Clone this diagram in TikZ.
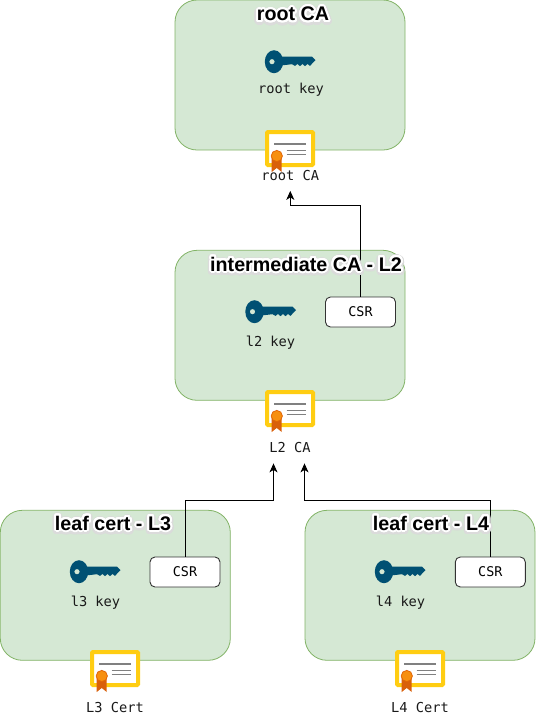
\documentclass[tikz,border=0pt]{standalone}
\usepackage{fontspec}
\usepackage[copies]{contour}
\setmainfont{Liberation Sans}
\setmonofont{DejaVu Sans Mono}
\usetikzlibrary{arrows.meta,calc}
\definecolor{boxfill}{HTML}{D5E8D4}
\definecolor{boxline}{HTML}{82B366}
\definecolor{keyblue}{HTML}{005073}
\definecolor{certgold}{HTML}{FFCD12}
\definecolor{sealorange}{HTML}{F78F0F}
\definecolor{sealribbon}{HTML}{D9600A}
\contournumber{32}
\newcommand{\titletext}[1]{\contourlength{2pt}\contour{white}{#1}}
\tikzset{
  cabox/.style={draw=boxline, fill=boxfill, line width=0.8pt, rounded corners=22pt, minimum width=230pt, minimum height=150pt, inner sep=0pt},
  csrbox/.style={draw=black!80, fill=white, line width=0.9pt, rounded corners=5pt, minimum width=70pt, minimum height=30pt, inner sep=0pt, font=\ttfamily\fontsize{13.4}{15}\selectfont},
  monolabel/.style={font=\ttfamily\fontsize{13.7}{15}\selectfont, text=black!90, inner sep=0pt},
  boxtitle/.style={font=\bfseries\fontsize{19.7}{22}\selectfont, inner sep=0pt},
  linkline/.style={-{Stealth[length=9pt,width=8pt,inset=2.5pt]}, line width=0.9pt},
  pics/keyicon/.style={code={
    % cabeza y vastago
    \fill[keyblue, even odd rule] (9,0) ellipse [x radius=9.2, y radius=11.5] (7,0) circle [radius=2.7];
    \fill[keyblue] (14,-5) -- (47,-5) -- (50.5,-1.5) -- (47,2) -- (45,4.2) -- (42.5,2.2) -- (40,4.5) -- (37.5,2.2) -- (35,4.5) -- (32.5,2.2) -- (30,4.2) -- (27,2.5) -- (14,4) -- cycle;
  }},
  pics/certicon/.style={code={
    % marco y lineas
    \draw[certgold, fill=white, line width=4pt, rounded corners=1pt] (2,2) rectangle (48,35);
    \draw[black!50, line width=1.3pt] (9.3,14) -- (40.7,14) (21.7,20.3) -- (40.7,20.3) (21.7,24.7) -- (40.7,24.7);
    % sello
    \fill[sealribbon] (6.7,27) -- (6.7,42) -- (11.7,38) -- (16.7,42) -- (16.7,27) -- cycle;
    \fill[sealorange, draw=sealribbon!80!orange, line width=0.8pt] (11.8,26) circle [radius=5.6];
  }},
}
\begin{document}
\begin{tikzpicture}[x=1pt, y=-1pt]
    \useasboundingbox (0,0) rectangle (536,724);

    % Cajas principales
    \node[cabox] (rootbox) at (290,75) {};
    \node[cabox] (l2box) at (290,325.3) {};
    \node[cabox] (l3box) at (115.3,585.3) {};
    \node[cabox] (l4box) at (420,585.3) {};

    % Solicitudes de firma
    \node[csrbox] (l2csr) at (360.5,312) {CSR};
    \node[csrbox] (l3csr) at (185,572) {CSR};
    \node[csrbox] (l4csr) at (490.3,572) {CSR};

    % Llaves
    \pic at (265,61.7) {keyicon};
    \node[monolabel] (rootkey) at (291,89.5) {root key};
    \pic at (245.5,311.7) {keyicon};
    \node[monolabel] (l2key) at (270.5,343) {l2 key};
    \pic at (70,571.7) {keyicon};
    \node[monolabel] (l3key) at (95.5,603) {l3 key};
    \pic at (375,571.7) {keyicon};
    \node[monolabel] (l4key) at (400.5,603) {l4 key};

    % Certificados
    \pic at (265,130) {certicon};
    \node[monolabel] (rootcert) at (290.3,175.5) {root CA};
    \pic at (265,390) {certicon};
    \node[monolabel] (l2cert) at (290,447.5) {L2 CA};
    \pic at (90,650) {certicon};
    \node[monolabel] (l3cert) at (115,707.5) {L3 Cert};
    \pic at (395,650) {certicon};
    \node[monolabel] (l4cert) at (420,707.5) {L4 Cert};

    % Flechas hacia el emisor
    \coordinate (rootin) at ($(rootcert.south)+(0,10)$);
    \coordinate (l3in) at ($(l2cert.south)+(-16.5,10.5)$);
    \coordinate (l4in) at ($(l2cert.south)+(14.5,10.5)$);
    \coordinate (rootbend) at ($(rootin)+(0,15)$);
    \coordinate (l3bend) at ($(l3in)+(0,37)$);
    \coordinate (l4bend) at ($(l4in)+(0,37)$);
    \draw[linkline] (l2csr.north) |- (rootbend) -- (rootin);
    \draw[linkline] (l3csr.north) |- (l3bend) -- (l3in);
    \draw[linkline] (l4csr.north) |- (l4bend) -- (l4in);

    % Titulos
    \node[boxtitle, text=black!18] (roottitleshade) at (293,17) {\contourlength{3.5pt}\contour{black!14}{root CA}};
    \node[boxtitle] (roottitle) at (293,15) {\titletext{root CA}};
    \node[boxtitle, text=black!18] (l2titleshade) at (306,267) {\contourlength{3.5pt}\contour{black!14}{intermediate CA - L2}};
    \node[boxtitle] (l2title) at (306,265) {\titletext{intermediate CA - L2}};
    \node[boxtitle, text=black!18] (l3titleshade) at (113,526) {\contourlength{3.5pt}\contour{black!14}{leaf cert - L3}};
    \node[boxtitle] (l3title) at (113,524) {\titletext{leaf cert - L3}};
    \node[boxtitle, text=black!18] (l4titleshade) at (431,526) {\contourlength{3.5pt}\contour{black!14}{leaf cert - L4}};
    \node[boxtitle] (l4title) at (431,524) {\titletext{leaf cert - L4}};
\end{tikzpicture}
\end{document}
